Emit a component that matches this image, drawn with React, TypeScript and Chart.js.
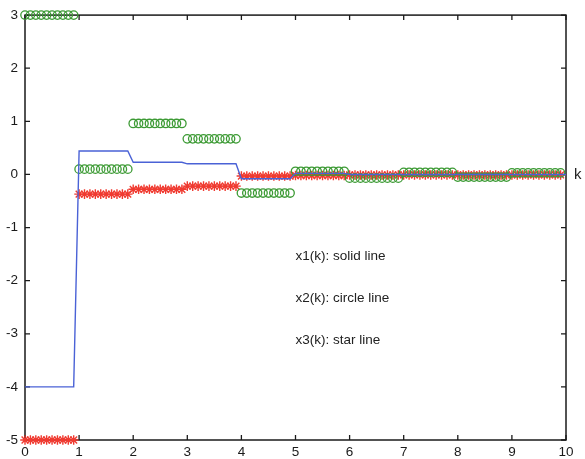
import React, { useEffect, useRef } from "react";
import { Chart, registerables } from "chart.js";

Chart.register(...registerables);

// Per-unit-interval values of k (k in [n, n+1), n = 0..9), sampled every 0.1
const segmentStarts = [0, 1, 2, 3, 4, 5, 6, 7, 8, 9];
const x1Values = [-4, 0.44, 0.23, 0.2, -0.08, 0.02, 0.0, 0.0, 0.0, 0.0];
const x2Values = [3, 0.1, 0.96, 0.67, -0.35, 0.06, -0.07, 0.04, -0.05, 0.03];
const x3Values = [-5, -0.37, -0.28, -0.22, -0.03, -0.02, -0.01, -0.01, -0.01, -0.01];
const subSteps = [0, 0.1, 0.2, 0.3, 0.4, 0.5, 0.6, 0.7, 0.8, 0.9];

const xTicks = [0, 1, 2, 3, 4, 5, 6, 7, 8, 9, 10];
const yTicks = [-5, -4, -3, -2, -1, 0, 1, 2, 3];

const notes = [
  { text: "x1(k): solid line", k: 5.0, y: -1.54 },
  { text: "x2(k): circle line", k: 5.0, y: -2.33 },
  { text: "x3(k): star line", k: 5.0, y: -3.12 },
];

function expand(vals: number[], withEnd: boolean) {
  const pts: { x: number; y: number }[] = [];
  segmentStarts.forEach((s, i) => {
    subSteps.forEach((d) => pts.push({ x: Math.round((s + d) * 10) / 10, y: vals[i] }));
  });
  if (withEnd) pts.push({ x: 10, y: vals[vals.length - 1] });
  return pts;
}

const FONT = "'Liberation Sans', Arial, Helvetica, sans-serif";

const boxPlugin = {
  id: "boxPlugin",
  beforeDatasetsDraw(chart: any) {
    const { ctx, chartArea: a, scales } = chart;
    const xs = scales.x;
    const ys = scales.y;
    ctx.save();
    ctx.strokeStyle = "#1a1a1a";
    ctx.lineWidth = 1.5;
    ctx.strokeRect(a.left, a.top, a.right - a.left, a.bottom - a.top);
    const tl = 5;
    ctx.lineWidth = 1.3;
    ctx.beginPath();
    xTicks.forEach((v) => {
      const px = xs.getPixelForValue(v);
      ctx.moveTo(px, a.bottom);
      ctx.lineTo(px, a.bottom - tl);
      ctx.moveTo(px, a.top);
      ctx.lineTo(px, a.top + tl);
    });
    yTicks.forEach((v) => {
      const py = ys.getPixelForValue(v);
      ctx.moveTo(a.left, py);
      ctx.lineTo(a.left + tl, py);
      ctx.moveTo(a.right, py);
      ctx.lineTo(a.right - tl, py);
    });
    ctx.stroke();
    ctx.restore();
  },
  afterDraw(chart: any) {
    const { ctx, chartArea: a, scales } = chart;
    const xs = scales.x;
    const ys = scales.y;
    ctx.save();
    ctx.fillStyle = "#222";
    ctx.font = "15px " + FONT;
    ctx.textBaseline = "middle";
    ctx.textAlign = "left";
    ctx.fillText("k", a.right + 8, ys.getPixelForValue(0));
    ctx.font = "13.5px " + FONT;
    notes.forEach((n) => {
      ctx.fillText(n.text, xs.getPixelForValue(n.k), ys.getPixelForValue(n.y));
    });
    ctx.restore();
  },
};

export default function App() {
  const ref = useRef<HTMLCanvasElement | null>(null);
  useEffect(() => {
    if (!ref.current) return;
    const chart = new Chart(ref.current, {
      type: "line",
      data: {
        datasets: [
          {
            label: "x1",
            data: expand(x1Values, true),
            borderColor: "#4a62d6",
            borderWidth: 1.4,
            pointRadius: 0,
            fill: false,
            tension: 0,
            clip: false as any,
          },
          {
            label: "x2",
            data: expand(x2Values, false),
            showLine: false,
            pointStyle: "circle",
            pointRadius: 4.2,
            pointBorderWidth: 1.3,
            pointBorderColor: "#3c9a34",
            pointBackgroundColor: "rgba(0,0,0,0)",
            borderColor: "#3c9a34",
            clip: false as any,
          },
          {
            label: "x3",
            data: expand(x3Values, false),
            showLine: false,
            pointStyle: "star",
            pointRadius: 4.8,
            pointBorderWidth: 1.4,
            pointBorderColor: "#f03a30",
            pointBackgroundColor: "#f03a30",
            borderColor: "#f03a30",
            clip: false as any,
          },
        ],
      },
      options: {
        animation: false,
        responsive: false,
        devicePixelRatio: 1,
        layout: { padding: { top: 15, right: 19, left: 0, bottom: 0 } },
        plugins: { legend: { display: false }, tooltip: { enabled: false } },
        scales: {
          x: {
            type: "linear",
            min: 0,
            max: 10,
            afterFit: (s: any) => {
              s.height = 19;
            },
            afterBuildTicks: (s: any) => {
              s.ticks = xTicks.map((v) => ({ value: v }));
            },
            grid: { display: false, drawTicks: false },
            border: { display: false },
            ticks: {
              padding: 4,
              color: "#1a1a1a",
              font: { family: FONT, size: 13.5 },
              maxRotation: 0,
              autoSkip: false,
            },
          },
          y: {
            type: "linear",
            min: -5,
            max: 3,
            afterFit: (s: any) => {
              s.width = 25;
            },
            afterBuildTicks: (s: any) => {
              s.ticks = yTicks.map((v) => ({ value: v }));
            },
            grid: { display: false, drawTicks: false },
            border: { display: false },
            ticks: {
              padding: 7,
              color: "#1a1a1a",
              font: { family: FONT, size: 13.5 },
              autoSkip: false,
            },
          },
        },
      },
      plugins: [boxPlugin],
    } as any);
    return () => chart.destroy();
  }, []);
  return (
    <div style={{ position: "fixed", left: 0, top: 0, width: 585, height: 459, background: "#fff" }}>
      <canvas ref={ref} width={585} height={459} style={{ width: 585, height: 459 }} />
    </div>
  );
}
